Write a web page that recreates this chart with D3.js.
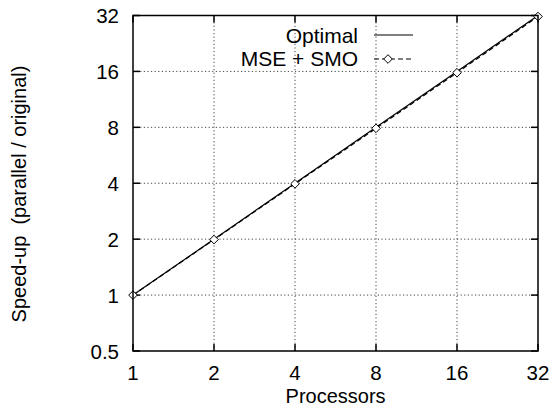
<!DOCTYPE html>
<html>
<head>
<meta charset="utf-8">
<script src="https://cdn.jsdelivr.net/npm/d3@7"></script>
<style>
body{margin:0;background:#fff;}
text{font-family:"Liberation Sans",Arial,sans-serif;}
</style>
</head>
<body>
<div id="chart"></div>
<script>
// processors vs speed-up
var processors = [1, 2, 4, 8, 16, 32];
var optimal = [1, 2, 4, 8, 16, 32];
var mseSmo = [1, 1.99, 3.97, 7.9, 15.75, 31.6];
var xTicks = [1, 2, 4, 8, 16, 32];
var yTicks = [0.5, 1, 2, 4, 8, 16, 32];

var W = 552, H = 406;
var m = {left:133, right:14, top:15.5, bottom:55};

var svg = d3.select('#chart').append('svg').attr('width',W).attr('height',H);

var x = d3.scaleLog().base(2).domain([1,32]).range([m.left, W-m.right]);
var y = d3.scaleLog().base(2).domain([0.5,32]).range([H-m.bottom, m.top]);

// grid
var grid = svg.append('g').attr('stroke','#444').attr('stroke-width',1).attr('stroke-dasharray','1.2,2.4');
grid.selectAll('.gx').data(xTicks.slice(1,-1)).enter().append('line')
  .attr('x1',function(d){return x(d)}).attr('x2',function(d){return x(d)})
  .attr('y1',y(0.5)).attr('y2',y(32));
grid.selectAll('.gy').data(yTicks.slice(1,-1)).enter().append('line')
  .attr('x1',x(1)).attr('x2',x(32))
  .attr('y1',function(d){return y(d)}).attr('y2',function(d){return y(d)});

// ticks (inward, mirrored)
var tl = 7;
var ticks = svg.append('g').attr('stroke','#000').attr('stroke-width',1.5);
xTicks.forEach(function(d){
  ticks.append('line').attr('x1',x(d)).attr('x2',x(d)).attr('y1',y(0.5)).attr('y2',y(0.5)-tl);
  ticks.append('line').attr('x1',x(d)).attr('x2',x(d)).attr('y1',y(32)).attr('y2',y(32)+tl);
});
yTicks.forEach(function(d){
  ticks.append('line').attr('x1',x(1)).attr('x2',x(1)+tl).attr('y1',y(d)).attr('y2',y(d));
  ticks.append('line').attr('x1',x(32)).attr('x2',x(32)-tl).attr('y1',y(d)).attr('y2',y(d));
});

// tick labels
svg.append('g').selectAll('text').data(xTicks).enter().append('text')
  .attr('x',function(d){return x(d)}).attr('y',380)
  .attr('text-anchor','middle').attr('font-size',20.5).text(function(d){return d});
svg.append('g').selectAll('text').data(yTicks).enter().append('text')
  .attr('x',119).attr('y',function(d){return y(d)+7.5})
  .attr('text-anchor','end').attr('font-size',20.5).text(function(d){return d});

// axis titles
svg.append('text').attr('x',x(5.66)).attr('y',403).attr('text-anchor','middle')
  .attr('font-size',20).text('Processors');
svg.append('text').attr('transform','translate(26,194) rotate(-90)').attr('text-anchor','middle')
  .attr('font-size',20).style('white-space','pre').text('Speed-up  (parallel / original)');

// optimal line
var line = d3.line().x(function(d,i){return x(processors[i])}).y(function(d){return y(d)});
svg.append('path').datum(optimal).attr('d',line).attr('fill','none').attr('stroke','#000').attr('stroke-width',1.2);
svg.append('path').datum(mseSmo).attr('d',line).attr('fill','none').attr('stroke','#000').attr('stroke-width',1.2).attr('stroke-dasharray','5,3');

var diamond = function(cx,cy){var r=4.3;return 'M'+cx+','+(cy-r)+'L'+(cx+r)+','+cy+'L'+cx+','+(cy+r)+'L'+(cx-r)+','+cy+'Z';};
svg.append('g').selectAll('path').data(mseSmo).enter().append('path')
  .attr('d',function(d,i){return diamond(x(processors[i]),y(d))})
  .attr('fill','#fff').attr('stroke','#000').attr('stroke-width',1);

// legend
svg.append('text').attr('x',358).attr('y',43).attr('text-anchor','end').attr('font-size',21).text('Optimal');
svg.append('text').attr('x',358).attr('y',66).attr('text-anchor','end').attr('font-size',21).text('MSE + SMO');
svg.append('line').attr('x1',374).attr('x2',413).attr('y1',35).attr('y2',35).attr('stroke','#000').attr('stroke-width',1.2);
svg.append('line').attr('x1',374).attr('x2',413).attr('y1',59).attr('y2',59).attr('stroke','#000').attr('stroke-width',1.2).attr('stroke-dasharray','5,3');
svg.append('path').attr('d',diamond(388,59)).attr('fill','#fff').attr('stroke','#000').attr('stroke-width',1);

// frame
svg.append('rect').attr('x',x(1)).attr('y',y(32)).attr('width',x(32)-x(1)).attr('height',y(0.5)-y(32))
  .attr('fill','none').attr('stroke','#000').attr('stroke-width',1.5);
</script>
</body>
</html>
